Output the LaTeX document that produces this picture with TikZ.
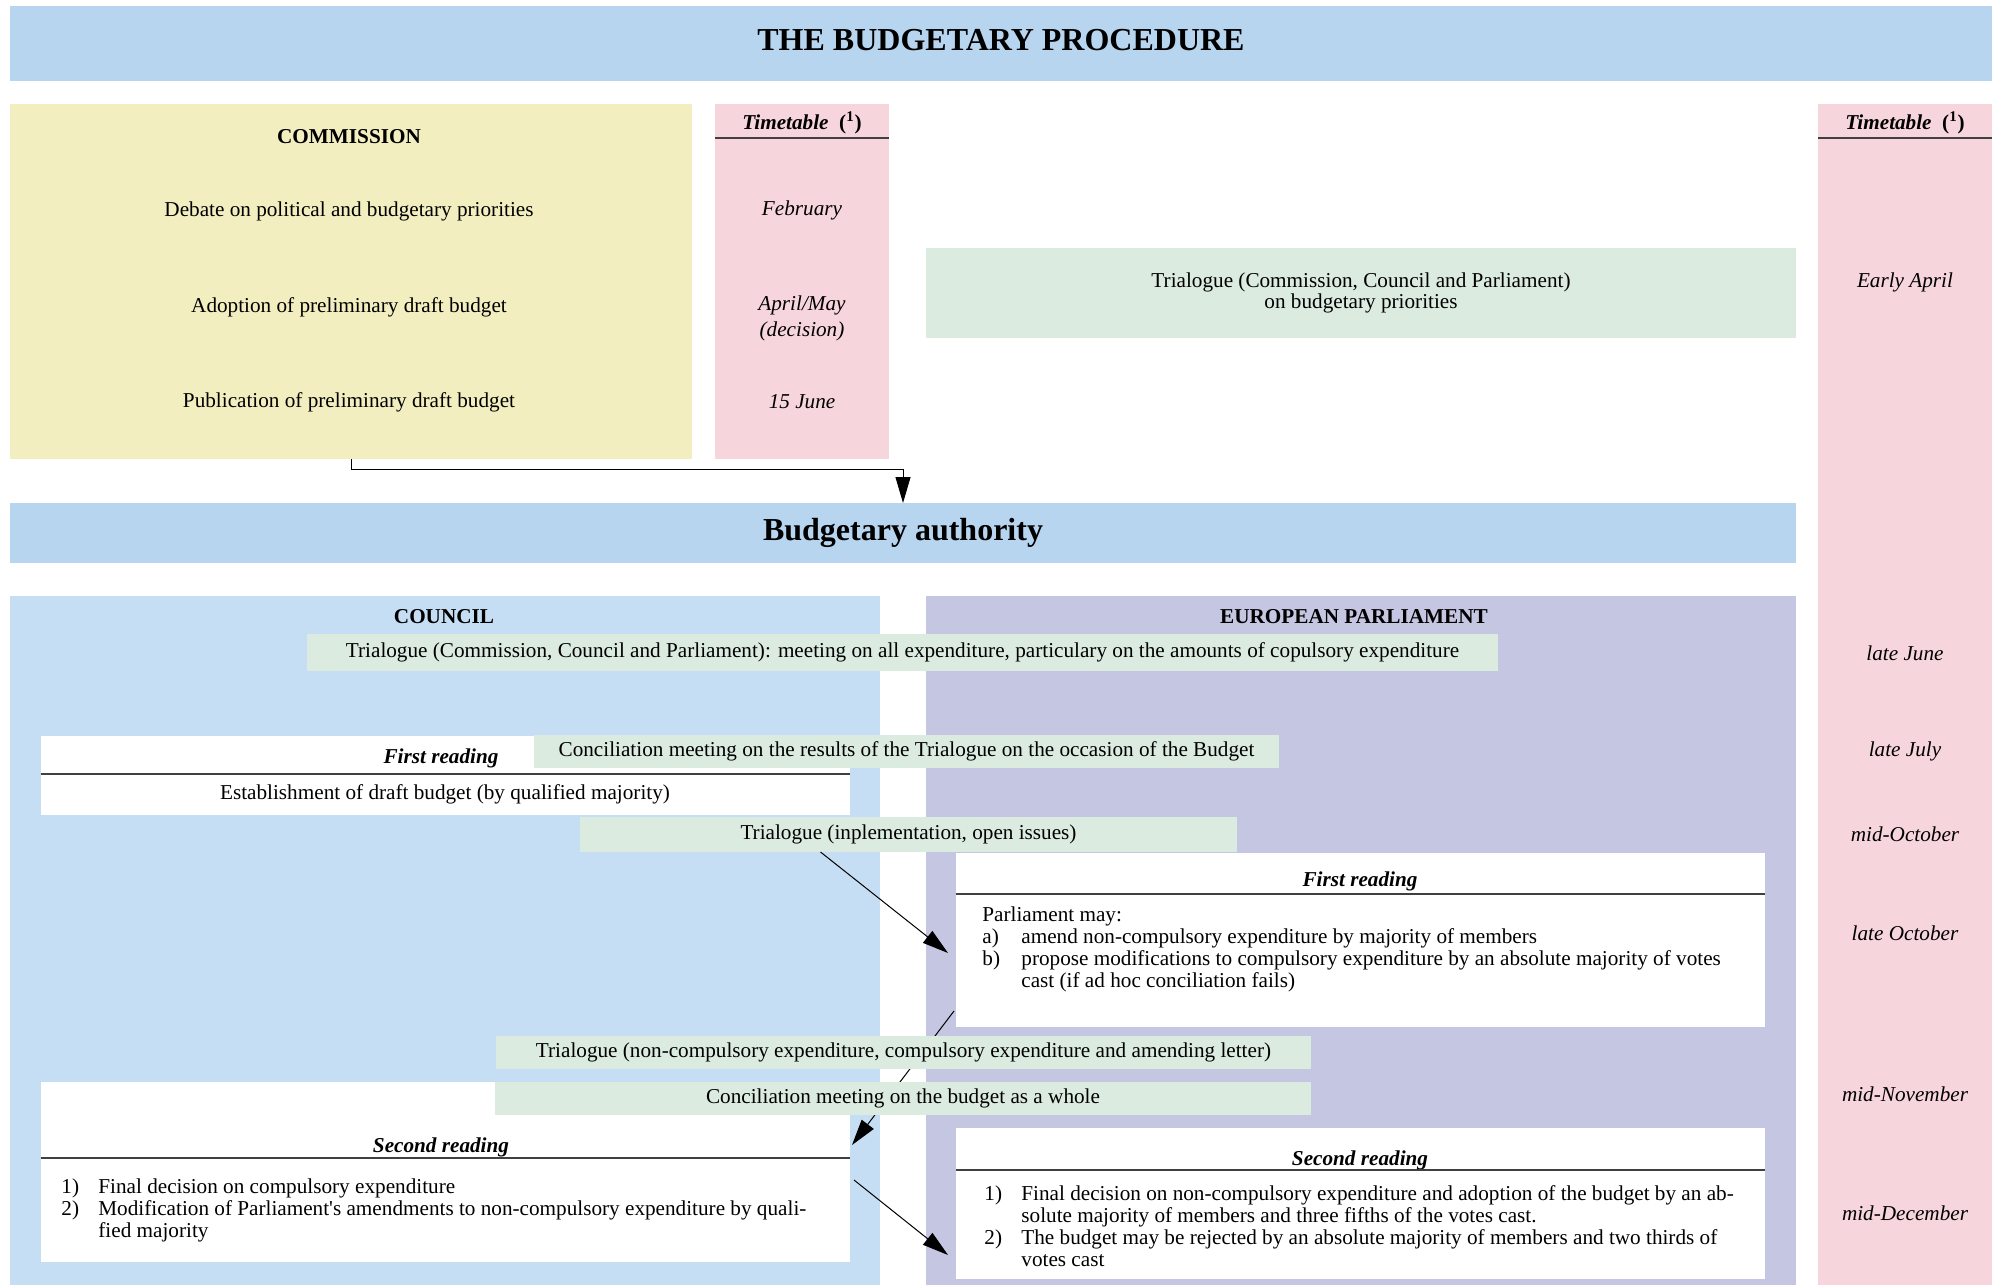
\documentclass[tikz,border=0pt]{standalone}
\usepackage{fontspec}
\setmainfont{Liberation Serif}
\usepackage{xcolor}
\usepackage{tikz}
\usetikzlibrary{arrows.meta, positioning}

\definecolor{bandblue}{HTML}{B8D5F0}
\definecolor{comyellow}{HTML}{F2EEC0}
\definecolor{timepink}{HTML}{F7D5DC}
\definecolor{meetgreen}{HTML}{DCEBE0}
\definecolor{counblue}{HTML}{C6DEF3}
\definecolor{eplilac}{HTML}{C5C6E1}

\begin{document}
\begin{tikzpicture}[
  x=0.5pt, y=-0.5pt,
  font=\fontsize{10.6}{10.9}\selectfont,
  >={Triangle[length=13pt, width=7.5pt]},
  area/.style={inner sep=0pt, outer sep=0pt},
  band/.style={area, fill=bandblue, font=\fontsize{16}{19}\selectfont\bfseries},
  combox/.style={area, fill=comyellow},
  timebox/.style={area, fill=timepink, minimum width=87pt},
  counbox/.style={area, fill=counblue, minimum width=435pt, minimum height=344.5pt},
  epbox/.style={area, fill=eplilac, minimum width=435pt, minimum height=344.5pt},
  readbox/.style={area, fill=white, minimum width=404.5pt},
  meet/.style={area, fill=meetgreen, align=center},
  hdr/.style={font=\fontsize{10.6}{12}\selectfont\bfseries},
  rdhdr/.style={font=\fontsize{10.6}{12}\selectfont\bfseries\itshape},
  tlbl/.style={font=\fontsize{10.6}{13}\selectfont\itshape, align=center},
  hline/.style={black!75, line width=0.9pt},
  arr/.style={->, black, line width=0.5pt},
]
\useasboundingbox (0,0) rectangle (1996,1285);
% header bands and commission stage
\node[band, minimum width=991pt, minimum height=37.5pt, text depth=4pt] (title) at (1001,43.5) {THE BUDGETARY PROCEDURE};
\node[combox, minimum width=341pt, minimum height=177.5pt] (commission) at (351,281.5) {};
\node[timebox, minimum height=177.5pt] (timeL) at (802,281.5) {};
\node[timebox, minimum height=590.5pt] (timeR) at (1905,694.5) {};
\node[meet, minimum width=435pt, minimum height=45pt] (triprio) at (1361,293)
      {Trialogue (Commission, Council and Parliament)\\on budgetary priorities};
\node[hdr] (comttl) at (349,137) {COMMISSION};
\node (debate)  at (349,211) {Debate on political and budgetary priorities};
\node (adopt)   at (349,307) {Adoption of preliminary draft budget};
\node (publish) at (349,402) {Publication of preliminary draft budget};
% timetables
\node[hdr] (timeLhd) at (802,123) {\textit{Timetable}\enspace(\textsuperscript{1})};
\draw[hline] (timeL.west |- 0,138) -- (timeL.east |- 0,138);
\node[tlbl] (feb)    at (802,210) {February};
\node[tlbl] (aprmay) at (802,318) {April/May\\(decision)};
\node[tlbl] (june)   at (802,402) {15 June};
\node[hdr] (timeRhd) at (1905,123) {\textit{Timetable}\enspace(\textsuperscript{1})};
\draw[hline] (timeR.west |- 0,138) -- (timeR.east |- 0,138);
\node[tlbl] (earlyapr) at (1905,282)  {Early April};
\node[tlbl] (latejun)  at (1905,653)  {late June};
\node[tlbl] (latejul)  at (1905,751)  {late July};
\node[tlbl] (midoct)   at (1905,834)  {mid-October};
\node[tlbl] (lateoct)  at (1905,933)  {late October};
\node[tlbl] (midnov)   at (1905,1094) {mid-November};
\node[tlbl] (middec)   at (1905,1213) {mid-December};
% budgetary authority
\node[band, minimum width=893pt, minimum height=30pt] (budget) at (903,533) {Budgetary authority};
\draw[arr] (commission.south) -- ++(0,10) -| (budget.north);
\node[counbox] (council) at (445,940.5) {};
\node[epbox] (parl) at (1361,940.5) {};
\node[hdr] (counttl) at (444,617) {COUNCIL};
\node[hdr] (parlttl) at (1354,617) {EUROPEAN PARLIAMENT};
% readings
\node[readbox, minimum height=39.5pt] (counfirst) at (445.5,775.5) {};
\node[rdhdr] (counfirstttl) at (441,758) {First reading};
\draw[hline] (counfirst.west |- 0,774) -- (counfirst.east |- 0,774);
\node (counfirsttxt) at (445,794) {Establishment of draft budget (by qualified majority)};
\node[readbox, minimum height=87pt] (epfirst) at (1360.5,940) {};
\node[rdhdr] (epfirstttl) at (1360,881) {First reading};
\draw[hline] (epfirst.west |- 0,894) -- (epfirst.east |- 0,894);
\node[anchor=west, inner sep=0pt] (epfirsttxt) at (982,950) {%
  \begin{tabular}{@{}p{19.5pt}@{}l@{}}
  \multicolumn{2}{@{}l@{}}{Parliament may:}\\
  a) & amend non-compulsory expenditure by majority of members\\
  b) & propose modifications to compulsory expenditure by an absolute majority of votes\\
     & cast (if ad hoc conciliation fails)
  \end{tabular}};
\node[readbox, minimum height=90pt] (counsecond) at (445.5,1172) {};
\node[rdhdr] (counsecondttl) at (441,1147) {Second reading};
\draw[hline] (counsecond.west |- 0,1158) -- (counsecond.east |- 0,1158);
\node[anchor=west, inner sep=0pt] (counsecondtxt) at (61,1211) {%
  \begin{tabular}{@{}p{18.5pt}@{}l@{}}
  1) & Final decision on compulsory expenditure\\
  2) & Modification of Parliament\textquotesingle s amendments to non-compulsory expenditure by quali-\\
     & fied majority
  \end{tabular}};
\node[readbox, minimum height=75.5pt] (epsecond) at (1360.5,1203.5) {};
\node[rdhdr] (epsecondttl) at (1360,1160) {Second reading};
\draw[hline] (epsecond.west |- 0,1170) -- (epsecond.east |- 0,1170);
\node[anchor=west, inner sep=0pt] (epsecondtxt) at (984,1229) {%
  \begin{tabular}{@{}p{18.5pt}@{}l@{}}
  1) & Final decision on non-compulsory expenditure and adoption of the budget by an ab-\\
     & solute majority of members and three fifths of the votes cast.\\
  2) & The budget may be rejected by an absolute majority of members and two thirds of\\
     & votes cast
  \end{tabular}};
% meetings during first reading
\node[meet, minimum width=595.5pt, minimum height=18.5pt] (triall) at (902.5,652.5)
      {Trialogue (Commission, Council and Parliament): meeting on all expenditure, particulary on the amounts of copulsory expenditure};
\node[meet, minimum width=372.5pt, minimum height=16.5pt] (concres) at (906.5,751.5)
      {Conciliation meeting on the results of the Trialogue on the occasion of the Budget};
\node[meet, minimum width=328.5pt, minimum height=17.5pt] (trimpl) at (908.5,834.5)
      {Trialogue (inplementation, open issues)};
% flow between readings
\draw[arr] ([xshift=-44pt]trimpl.south) -- ([shift={(-8,13)}]epfirst.west);
\draw[arr] ([shift={(-2,71)}]epfirst.west) -- ([shift={(2,-27)}]counsecond.east);
\draw[arr] ([shift={(4,8)}]counsecond.east) -- ([shift={(-8,51.5)}]epsecond.west);
% meetings before second reading
\node[meet, minimum width=407.5pt, minimum height=16.5pt] (trinoncomp) at (903.5,1052.5)
      {Trialogue (non-compulsory expenditure, compulsory expenditure and amending letter)};
\node[meet, minimum width=408pt, minimum height=16.5pt] (concwhole) at (903,1098.5)
      {Conciliation meeting on the budget as a whole};
\end{tikzpicture}
\end{document}
